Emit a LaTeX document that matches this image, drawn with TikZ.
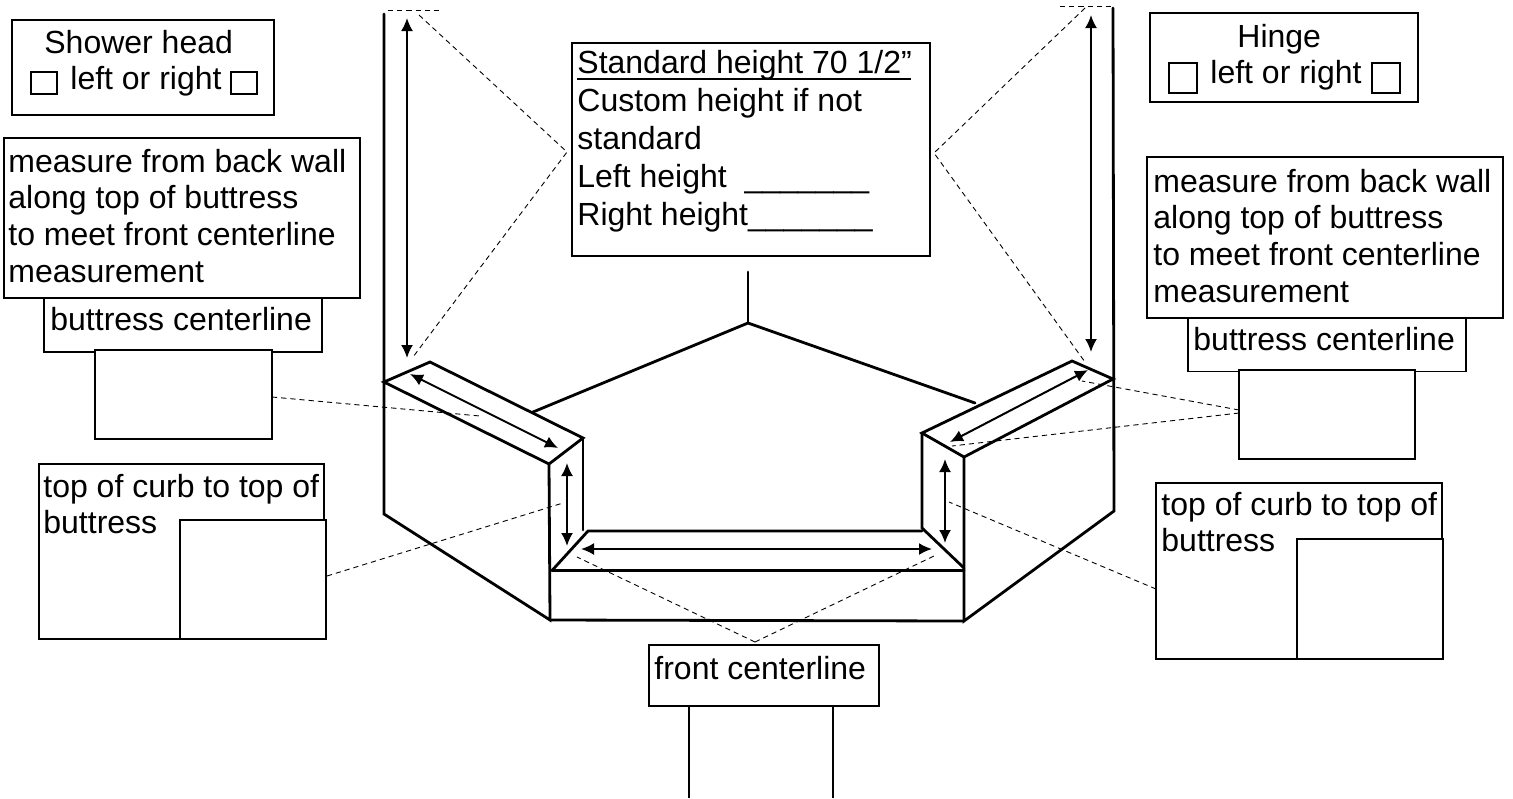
\documentclass[tikz,border=0pt]{standalone}
\usepackage{fontspec}
\setmainfont{Liberation Sans}
\usetikzlibrary{arrows.meta}
\tikzset{
  wall/.style={line width=1.4pt,line cap=round},
  thinbox/.style={draw,line width=.75pt,inner sep=0pt},
  heavybox/.style={draw,line width=1.15pt,inner sep=0pt},
  checkbox/.style={draw,line width=.6pt,inner sep=0pt},
  label/.style={inner sep=0pt,align=left,font=\fontsize{16}{18.4}\selectfont},
  measure/.style={line width=1pt,{Latex[length=6.5pt,width=6pt]}-{Latex[length=6.5pt,width=6pt]}},
  guide/.style={line width=.45pt,dash pattern=on 2.6pt off 2pt},
}
\begin{document}
\begin{tikzpicture}[x=.5pt,y=-.5pt]
        \useasboundingbox (0,0) rectangle (1513,798);

        % curb and buttress corners
        \coordinate (Ltop) at (384,14);
        \coordinate (Lback) at (384,382);
        \coordinate (Lfoot) at (384,514);
        \coordinate (Lrear) at (430,362);
        \coordinate (Linner) at (583,438);
        \coordinate (Lfront) at (549,464);
        \coordinate (Lbase) at (550,620);
        \coordinate (Rtop) at (1113,8);
        \coordinate (Rback) at (1113,379);
        \coordinate (Rfoot) at (1114,511);
        \coordinate (Rrear) at (1072,361);
        \coordinate (Rinner) at (922,433);
        \coordinate (Rfront) at (964,457);
        \coordinate (Rbase) at (964,621);
        \coordinate (Cornertop) at (748,272);
        \coordinate (Corner) at (748,323);
        \coordinate (Lwall) at (533,412);
        \coordinate (Rwall) at (975,403);

        % outline of the shower base
        \draw[wall] (Ltop) -- (Lfoot) -- (Lbase) -- (Lfront) -- (Lback) -- (Lrear) -- (Linner) -- (Lfront);
        \draw[wall] (Rtop) -- (Rfoot) -- (Rbase) -- (Rfront) -- (Rback) -- (Rrear) -- (Rinner) -- (Rfront);
        \draw[wall] (Lwall) -- (Corner) -- (Rwall);
        \draw[wall] (Cornertop) -- (Corner);
        \draw[wall] (Linner) -- (583,530);
        \draw[wall] (Rinner) -- (922,528) -- (964,568);
        \draw[wall] (552,570.5) -- (588,531) -- (922,531);
        \draw[wall] (552,570.5) -- (964,570.5);
        \draw[wall] (Lbase) -- (Rbase);

        % text boxes, left side
        \node[thinbox,minimum width=131pt,minimum height=47.5pt] (showerbox) at (143,67.5) {};
        \node[label,anchor=base west] (showertxt) at (44,53) {Shower head};
        \node[label,anchor=base west] (showerlr) at (70,89) {left or right};
        \node[checkbox,minimum width=13pt,minimum height=11pt] (showerl) at (44,83) {};
        \node[checkbox,minimum width=13pt,minimum height=11pt] (showerr) at (244,83) {};
        \node[thinbox,minimum width=139pt,minimum height=27pt] (lcenter) at (183,325) {};
        \node[heavybox,minimum width=178pt,minimum height=80pt] (lmeasure) at (182,218) {};
        \node[label,anchor=north west] (lmeasuretxt) at (8,148.6) {measure from back wall\\along top of buttress\\to meet front centerline\\measurement};
        \node[label,anchor=base west] (lcentertxt) at (50,330) {buttress centerline};
        \node[thinbox,fill=white,minimum width=88.5pt,minimum height=44.5pt] (lsize) at (183.5,394.5) {};
        \node[thinbox,minimum width=142.5pt,minimum height=87.5pt] (lcurb) at (181.5,551.5) {};
        \node[label,anchor=north west] (lcurbtxt) at (43,473.6) {top of curb to top of\\buttress};
        \node[thinbox,fill=white,minimum width=73pt,minimum height=59.5pt] (lcurbsize) at (253,579.5) {};

        % text boxes, middle
        \node[thinbox,minimum width=179pt,minimum height=106.5pt] (stdbox) at (751,149.5) {};
        \node[label,anchor=north west,font=\fontsize{16}{19}\selectfont] (stdtxt) at (577,49.6) {\rlap{\rule[-3.6pt]{167pt}{1pt}}Standard height 70 1/2”\\Custom height if not\\standard\\Left height\ \ \_\_\_\_\_\_\_\\Right height\_\_\_\_\_\_\_};
        \node[heavybox,minimum width=115pt,minimum height=30.5pt] (frontbox) at (764,675.5) {};
        \node[label,anchor=base west] (fronttxt) at (654,679) {front centerline};
        \coordinate (Fleft) at (689,798);
        \coordinate (Fright) at (833,798);
        \draw[line width=1.15pt] (frontbox.south -| Fleft) -- (Fleft);
        \draw[line width=1.15pt] (frontbox.south -| Fright) -- (Fright);

        % text boxes, right side
        \node[heavybox,minimum width=134pt,minimum height=44.5pt] (hingebox) at (1284,57.5) {};
        \node[label,anchor=base west] (hingetxt) at (1237,47) {Hinge};
        \node[label,anchor=base west] (hingelr) at (1210,83) {left or right};
        \node[heavybox,minimum width=14pt,minimum height=15pt] (hingel) at (1183,78) {};
        \node[heavybox,minimum width=14pt,minimum height=15pt] (hinger) at (1386,78) {};
        \node[thinbox,minimum width=139pt,minimum height=27pt] (rcenter) at (1327,344.5) {};
        \node[heavybox,minimum width=178pt,minimum height=80.5pt] (rmeasure) at (1325,237.5) {};
        \node[label,anchor=north west] (rmeasuretxt) at (1153,168.6) {measure from back wall\\along top of buttress\\to meet front centerline\\measurement};
        \node[label,anchor=base west] (rcentertxt) at (1193,350) {buttress centerline};
        \node[thinbox,fill=white,minimum width=88pt,minimum height=44.5pt] (rsize) at (1327,414.5) {};
        \node[thinbox,minimum width=143pt,minimum height=88pt] (rcurb) at (1299,571) {};
        \node[label,anchor=north west] (rcurbtxt) at (1161,491.6) {top of curb to top of\\buttress};
        \node[thinbox,fill=white,minimum width=73pt,minimum height=60pt] (rcurbsize) at (1370,599) {};

        % measuring arrows
        \draw[measure] (407,18) -- (407,358);
        \draw[measure] (1091,15) -- (1091,352);
        \draw[measure] (410,374) -- (558,448);
        \draw[measure] (1088,370) -- (950,442);
        \draw[measure] (567,463) -- (567,546);
        \draw[measure] (945,459) -- (945,543);
        \draw[measure] (581,549) -- (932,549);

        % dashed guides to the boxes
        \coordinate (Lhtop) at (419,15);
        \coordinate (Lhfoot) at (413,357);
        \coordinate (Lhapex) at (567,152);
        \coordinate (Rhtop) at (1085,8);
        \coordinate (Rhfoot) at (1085,362);
        \coordinate (Rhapex) at (934,153);
        \coordinate (Fapex) at (755,642);
        \draw[guide] (388,10) -- (440,10);
        \draw[guide] (1060,6) -- (1112,6);
        \draw[guide] (Lhtop) -- (Lhapex) -- (Lhfoot);
        \draw[guide] (Rhtop) -- (Rhapex) -- (Rhfoot);
        \draw[guide] (272,397) -- (480,416);
        \draw[guide] (1239,410) -- (1082,381);
        \draw[guide] (1239,413) -- (952,446);
        \draw[guide] (327,576) -- (563,503);
        \draw[guide] (1156,589) -- (949,502);
        \draw[guide] (Fapex) -- (577,557);
        \draw[guide] (Fapex) -- (936,555);
\end{tikzpicture}
\end{document}
